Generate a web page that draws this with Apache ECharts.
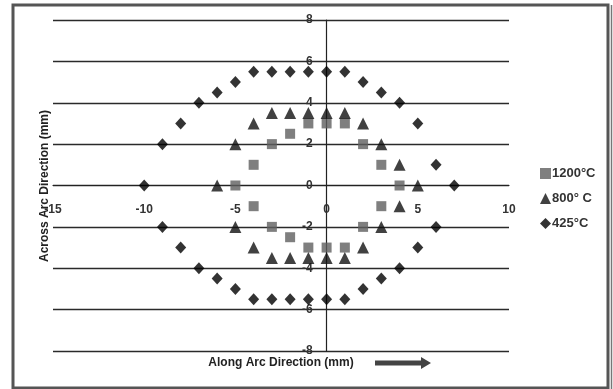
<!DOCTYPE html>
<html><head><meta charset="utf-8">
<script src="https://cdn.jsdelivr.net/npm/echarts@6/dist/echarts.min.js"></script>
<style>html,body{margin:0;padding:0;background:#fff}#c{width:613px;height:389px}</style>
</head><body><div id="c"></div>
<script>
var seriesNames = ['1200\u00b0C', '800\u00b0 C', '425\u00b0C'];
var xTicks = [-15, -10, -5, 0, 5, 10];
var yTicks = [-8, -6, -4, -2, 0, 2, 4, 6, 8];
var s1200 = [[-5,0],[-4,1],[-3,2],[-2,2.5],[-1,3],[0,3],[1,3],[2,2],[3,1],[4,0],[3,-1],[2,-2],[1,-3],[0,-3],[-1,-3],[-2,-2.5],[-3,-2],[-4,-1]];
var s800 = [[-6,0],[-5,2],[-4,3],[-3,3.5],[-2,3.5],[-1,3.5],[0,3.5],[1,3.5],[2,3],[3,2],[4,1],[5,0],[4,-1],[3,-2],[2,-3],[1,-3.5],[0,-3.5],[-1,-3.5],[-2,-3.5],[-3,-3.5],[-4,-3],[-5,-2]];
var s425 = [[-10,0],[-9,2],[-8,3],[-7,4],[-6,4.5],[-5,5],[-4,5.5],[-3,5.5],[-2,5.5],[-1,5.5],[0,5.5],[1,5.5],[2,5],[3,4.5],[4,4],[5,3],[6,1],[7,0],[6,-2],[5,-3],[4,-4],[3,-4.5],[2,-5],[1,-5.5],[0,-5.5],[-1,-5.5],[-2,-5.5],[-3,-5.5],[-4,-5.5],[-5,-5],[-6,-4.5],[-7,-4],[-8,-3],[-9,-2]];

var gLeft = 53, gRight = 104, gTop = 20, gBottom = 38, W = 613, H = 389;
var gw = W - gLeft - gRight, gh = H - gTop - gBottom;
var xMin = xTicks[0], xMax = xTicks[xTicks.length-1], yMin = yTicks[0], yMax = yTicks[yTicks.length-1];
// shift the axes so they cross at the origin (labels follow the axes)
var yAxisOffset = -((0 - xMin) / (xMax - xMin) * gw);
var xAxisOffset = -((0 - yMin) / (yMax - yMin) * gh);

var chart = echarts.init(document.getElementById('c'));
var font = 'Liberation Sans, Arial, sans-serif';
chart.setOption({
  animation: false,
  grid: {left: gLeft, right: gRight, top: gTop, bottom: gBottom},
  xAxis: {
    type: 'value', min: xMin, max: xMax, interval: 5, position: 'bottom', offset: xAxisOffset,
    axisLine: {onZero: false, lineStyle: {color: '#222', width: 1.2}},
    axisTick: {show: false},
    splitLine: {show: false},
    axisLabel: {margin: 18, color: '#333', fontFamily: font, fontWeight: 'bold', fontSize: 12}
  },
  yAxis: {
    type: 'value', min: yMin, max: yMax, interval: 2, position: 'left', offset: yAxisOffset,
    axisLine: {show: true, onZero: false, lineStyle: {color: '#222', width: 1.2}},
    axisTick: {show: false},
    splitLine: {show: true, lineStyle: {color: '#2a2a2a', width: 1.3}},
    axisLabel: {margin: 14, color: '#333', fontFamily: font, fontWeight: 'bold', fontSize: 12}
  },
  legend: {
    orient: 'vertical', left: 535, top: 162, itemGap: 12, itemWidth: 11, itemHeight: 11,
    textStyle: {color: '#333', fontFamily: font, fontWeight: 'bold', fontSize: 13, padding: [0,0,0,-4]},
    data: seriesNames
  },
  series: [
    {name: seriesNames[0], type: 'scatter', symbol: 'rect', symbolSize: 10, itemStyle: {color: '#5f5f5f'}, data: s1200},
    {name: seriesNames[1], type: 'scatter', symbol: 'triangle', symbolSize: 12, itemStyle: {color: '#111'}, data: s800},
    {name: seriesNames[2], type: 'scatter', symbol: 'diamond', symbolSize: [11, 12], itemStyle: {color: '#000'}, data: s425}
  ],
  graphic: [
    {type: 'rect', shape: {x: 13, y: 5, width: 595, height: 383}, style: {fill: 'none', stroke: '#555', lineWidth: 3}, silent: true},
    {type: 'line', shape: {x1: 611.5, y1: 5, x2: 611.5, y2: 389}, style: {stroke: '#777', lineWidth: 1.5}, silent: true},
    {type: 'text', x: 45, y: 186, rotation: Math.PI/2, style: {text: 'Across Arc Direction (mm)', fill: '#222', font: 'bold 12px ' + font, textAlign: 'center', textVerticalAlign: 'middle'}},
    {type: 'text', x: 281, y: 363, style: {text: 'Along Arc Direction (mm)', fill: '#222', font: 'bold 12px ' + font, textAlign: 'center', textVerticalAlign: 'middle'}},
    {type: 'polygon', shape: {points: [[375,360.5],[421,360.5],[421,357],[431,363],[421,369],[421,365.5],[375,365.5]]}, style: {fill: '#444'}, silent: true}
  ]
});
</script></body></html>
